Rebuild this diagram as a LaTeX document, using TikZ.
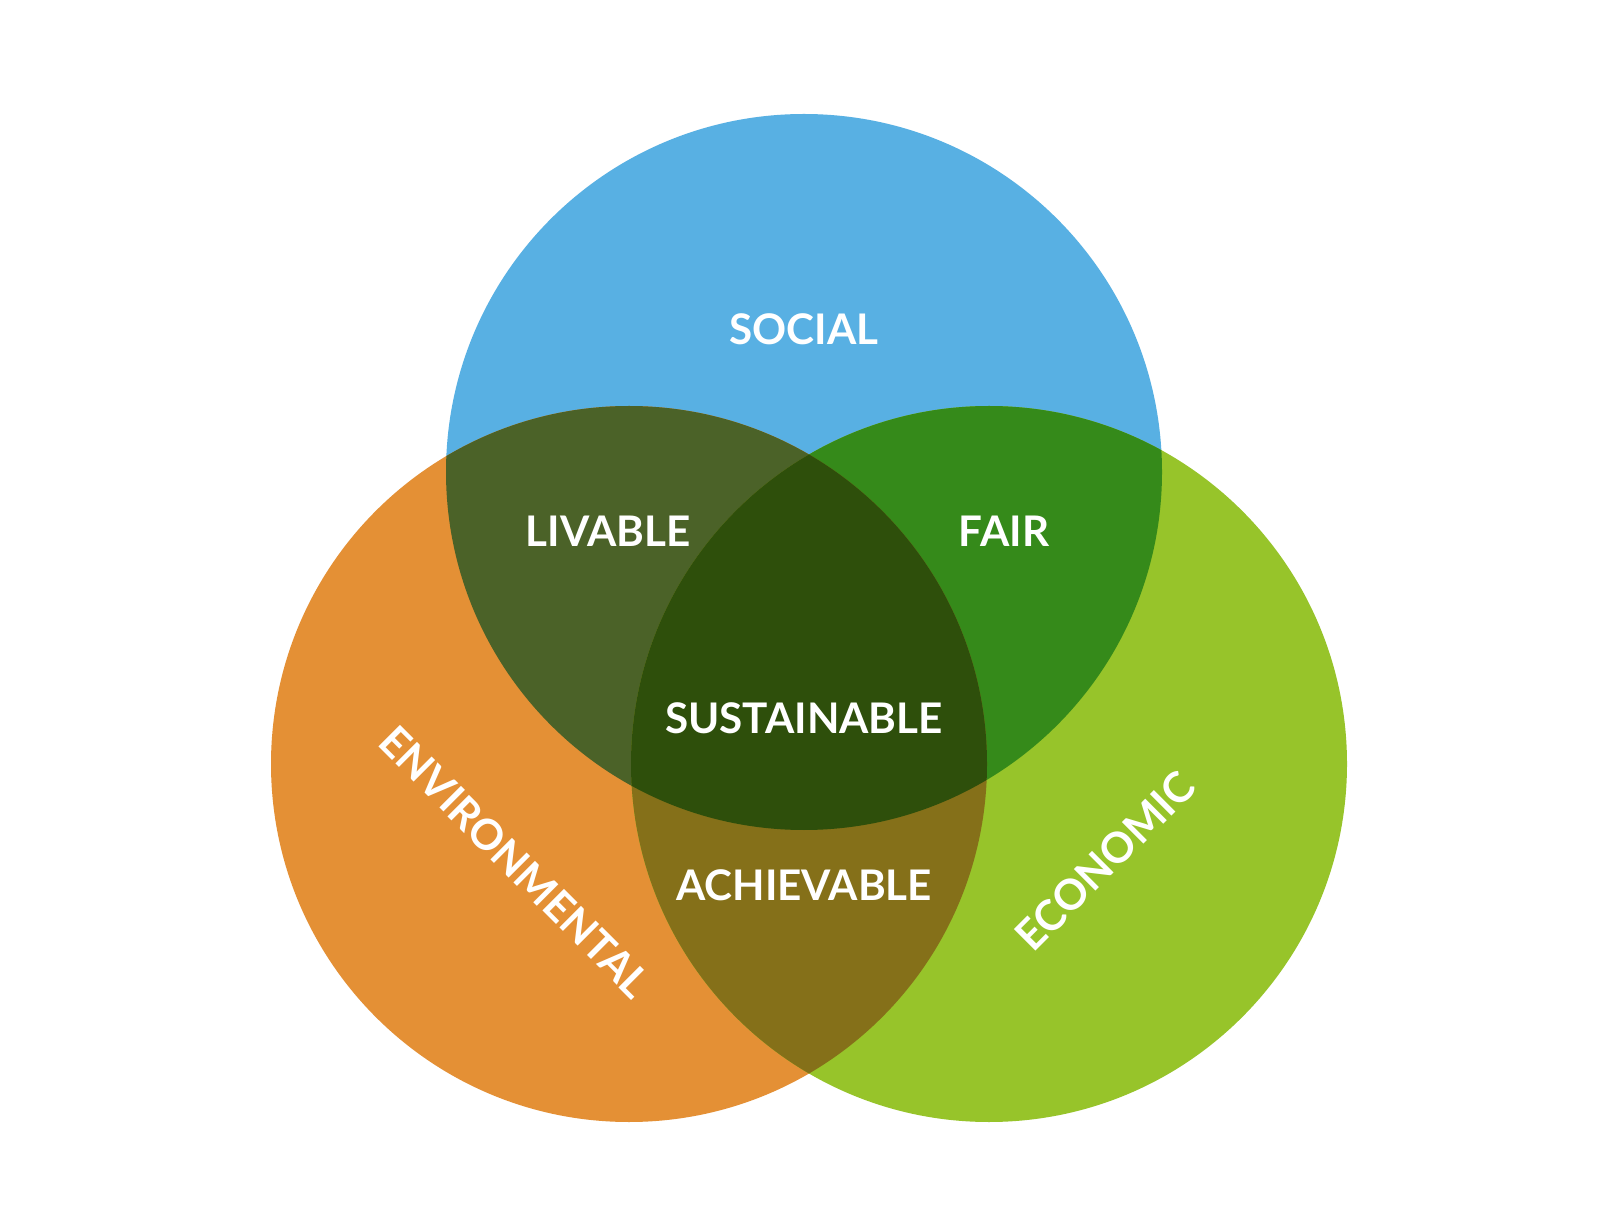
\documentclass[tikz,border=0pt]{standalone}
\usepackage{fontspec}
\setmainfont{Lato}
\definecolor{cblue}{HTML}{58B0E3}
\definecolor{corange}{HTML}{E49035}
\definecolor{cgreen}{HTML}{97C42A}
\definecolor{clivable}{HTML}{4B6228}
\definecolor{cfair}{HTML}{358A1A}
\definecolor{cachieve}{HTML}{857019}
\definecolor{ccenter}{HTML}{2E4F0B}
\tikzset{
  lbl/.style={text=white, font=\fontsize{12}{14}\selectfont\bfseries, inner sep=0pt},
}
\begin{document}
\begin{tikzpicture}[x=0.01cm,y=-0.01cm]
\useasboundingbox (0,0) rectangle (1600,1225);
\fill[white] (0,0) rectangle (1600,1225);
\def\R{358}
\coordinate (S) at (804,472);
\coordinate (E) at (629,764);
\coordinate (C) at (989,764);
\fill[cblue] (S) circle (\R);
\fill[corange] (E) circle (\R);
\fill[cgreen] (C) circle (\R);
\begin{scope}
  \clip (S) circle (\R);
  \fill[clivable] (E) circle (\R);
  \fill[cfair] (C) circle (\R);
\end{scope}
\begin{scope}
  \clip (E) circle (\R);
  \fill[cachieve] (C) circle (\R);
  \clip (C) circle (\R);
  \fill[ccenter] (S) circle (\R);
\end{scope}
\node[lbl] (social) at (804,329) {SOCIAL};
\node[lbl] (livable) at (608,531) {LIVABLE};
\node[lbl] (fair) at (1004,531) {FAIR};
\node[lbl] (sust) at (804,718) {SUSTAINABLE};
\node[lbl] (achieve) at (804,885) {ACHIEVABLE};
\node[lbl, rotate=-45] (env) at (515,862) {ENVIRONMENTAL};
\node[lbl, rotate=45] (econ) at (1105,861) {ECONOMIC};
\end{tikzpicture}
\end{document}
